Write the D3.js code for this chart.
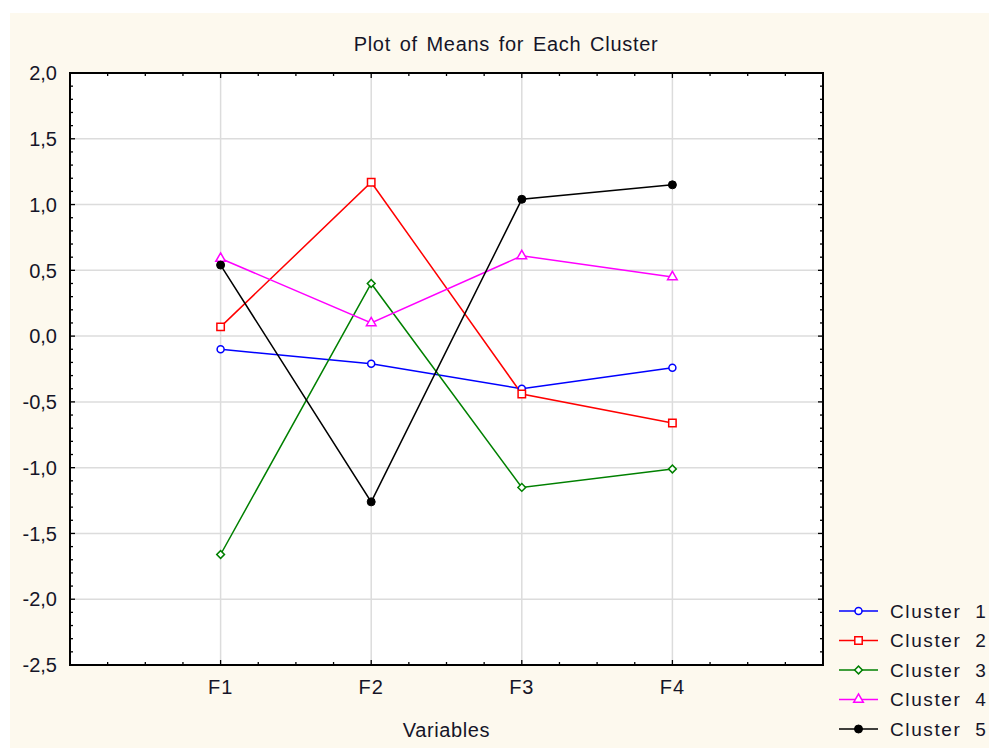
<!DOCTYPE html>
<html>
<head>
<meta charset="utf-8">
<script src="https://cdn.jsdelivr.net/npm/d3@7"></script>
<style>
  body { margin: 0; background: #fff; }
  svg text { font-family: "Liberation Sans", Arial, sans-serif; fill: #151528; }
</style>
</head>
<body>
<div id="chart"></div>
<script>
var variables = ["F1", "F2", "F3", "F4"];
var clusterNames = ["Cluster  1", "Cluster  2", "Cluster  3", "Cluster  4", "Cluster  5"];
var cluster1 = [-0.10, -0.21, -0.40, -0.24];
var cluster2 = [0.07, 1.17, -0.44, -0.66];
var cluster3 = [-1.66, 0.40, -1.15, -1.01];
var cluster4 = [0.59, 0.10, 0.61, 0.45];
var cluster5 = [0.54, -1.26, 1.04, 1.15];
var yTicks = [2.0, 1.5, 1.0, 0.5, 0.0, -0.5, -1.0, -1.5, -2.0, -2.5];

var colors = ["#0000ff", "#ff0000", "#008000", "#ff00ff", "#000000"];
var shapes = ["circle", "square", "diamond", "triangle", "dot"];

var series = [cluster1, cluster2, cluster3, cluster4, cluster5].map(function (vals, i) {
    return {name: clusterNames[i], values: vals, color: colors[i], shape: shapes[i]};
});

var width = 989, height = 749;
var margin = {top: 73, right: 166, bottom: 84, left: 70};
var plotW = width - margin.left - margin.right,
    plotH = height - margin.top - margin.bottom;

var svg = d3.select("#chart").append("svg")
    .attr("width", width)
    .attr("height", height);

svg.append("rect")
    .attr("x", 10).attr("y", 13)
    .attr("width", width - 10).attr("height", height - 14)
    .attr("fill", "#fdf9ee");

var g = svg.append("g")
    .attr("transform", "translate(" + margin.left + "," + margin.top + ")");

var x = d3.scaleLinear().domain([0, variables.length + 1]).range([0, plotW]);
var y = d3.scaleLinear().domain([-2.5, 2.0]).range([plotH, 0]);

var fmt = d3.formatLocale({decimal: ",", thousands: ".", grouping: [3], currency: ["", ""], minus: "-"}).format(".1f");

g.append("rect")
    .attr("width", plotW).attr("height", plotH)
    .attr("fill", "#fff");

// grid
g.selectAll(".hgrid").data(yTicks.slice(1, -1)).enter().append("line")
    .attr("x1", 0).attr("x2", plotW)
    .attr("y1", function (d) { return y(d); })
    .attr("y2", function (d) { return y(d); })
    .attr("stroke", "#dcdcdc").attr("stroke-width", 1.5);

g.selectAll(".vgrid").data(variables).enter().append("line")
    .attr("x1", function (d, i) { return x(i + 1); })
    .attr("x2", function (d, i) { return x(i + 1); })
    .attr("y1", 0).attr("y2", plotH)
    .attr("stroke", "#dcdcdc").attr("stroke-width", 1.5);

// minor/major ticks pointing inwards
var xMinor = d3.range(1, (variables.length + 1) * 4).map(function (k) { return k / 4; });
var yMinor = d3.range(-24, 20).map(function (k) { return k / 10; });

var ticks = g.append("g").attr("stroke", "#000").attr("stroke-width", 1.3);
xMinor.forEach(function (v) {
    var len = (v % 1 === 0) ? 5 : 3;
    ticks.append("line").attr("x1", x(v)).attr("x2", x(v)).attr("y1", plotH).attr("y2", plotH - len);
    ticks.append("line").attr("x1", x(v)).attr("x2", x(v)).attr("y1", 0).attr("y2", len);
});
yMinor.forEach(function (v) {
    var major = Math.abs(Math.round(v * 2) - v * 2) < 1e-6;
    var len = major ? 5 : 3;
    ticks.append("line").attr("y1", y(v)).attr("y2", y(v)).attr("x1", 0).attr("x2", len);
    ticks.append("line").attr("y1", y(v)).attr("y2", y(v)).attr("x1", plotW).attr("x2", plotW - len);
});

g.append("rect")
    .attr("width", plotW).attr("height", plotH)
    .attr("fill", "none").attr("stroke", "#000").attr("stroke-width", 2);

// axis labels
g.selectAll(".ylab").data(yTicks).enter().append("text")
    .attr("x", -13).attr("y", function (d) { return y(d); })
    .attr("dy", "0.36em").attr("text-anchor", "end")
    .attr("font-size", 20)
    .text(function (d) { return fmt(d); });

g.selectAll(".xlab").data(variables).enter().append("text")
    .attr("x", function (d, i) { return x(i + 1); })
    .attr("y", plotH + 29)
    .attr("text-anchor", "middle")
    .attr("font-size", 20)
    .attr("letter-spacing", 1)
    .text(function (d) { return d; });

svg.append("text")
    .attr("x", margin.left + plotW / 2).attr("y", 737)
    .attr("text-anchor", "middle").attr("font-size", 20)
    .attr("letter-spacing", 0.6)
    .text("Variables");

svg.append("text")
    .attr("x", 506).attr("y", 51)
    .attr("text-anchor", "middle").attr("font-size", 20)
    .attr("letter-spacing", 0.7)
    .attr("word-spacing", 2.5)
    .text("Plot of Means for Each Cluster");

// markers
function drawMarker(sel, shape, color, cx, cy) {
    if (shape === "circle") {
        sel.append("circle").attr("cx", cx).attr("cy", cy).attr("r", 3.5)
            .attr("fill", "#fff").attr("stroke", color).attr("stroke-width", 1.5);
    } else if (shape === "dot") {
        sel.append("circle").attr("cx", cx).attr("cy", cy).attr("r", 4)
            .attr("fill", color).attr("stroke", color);
    } else {
        var type = shape === "triangle" ? d3.symbolTriangle : d3.symbolSquare;
        var size = shape === "square" ? 55 : shape === "diamond" ? 30 : 40;
        var rot = shape === "diamond" ? " rotate(45)" : "";
        sel.append("path")
            .attr("d", d3.symbol().type(type).size(size)())
            .attr("transform", "translate(" + cx + "," + cy + ")" + rot)
            .attr("fill", "#fff").attr("stroke", color).attr("stroke-width", 1.5);
    }
}

var line = d3.line()
    .x(function (d, i) { return x(i + 1); })
    .y(function (d) { return y(d); });

series.forEach(function (s) {
    g.append("path")
        .datum(s.values)
        .attr("d", line)
        .attr("fill", "none")
        .attr("stroke", s.color)
        .attr("stroke-width", 1.5);
});
series.forEach(function (s) {
    var mg = g.append("g");
    s.values.forEach(function (v, i) {
        drawMarker(mg, s.shape, s.color, x(i + 1), y(v));
    });
});

// legend
var legend = svg.append("g").attr("transform", "translate(839,611)");
series.forEach(function (s, i) {
    var row = legend.append("g").attr("transform", "translate(0," + (i * 29.5) + ")");
    row.append("line").attr("x1", 0).attr("x2", 39).attr("y1", 0).attr("y2", 0)
        .attr("stroke", s.color).attr("stroke-width", 1.5);
    drawMarker(row, s.shape, s.color, 19.5, 0);
    row.append("text").attr("x", 51).attr("y", 0).attr("dy", "0.36em")
        .attr("font-size", 19)
        .attr("letter-spacing", 1.6)
        .style("white-space", "pre")
        .text(s.name);
});
</script>
</body>
</html>
